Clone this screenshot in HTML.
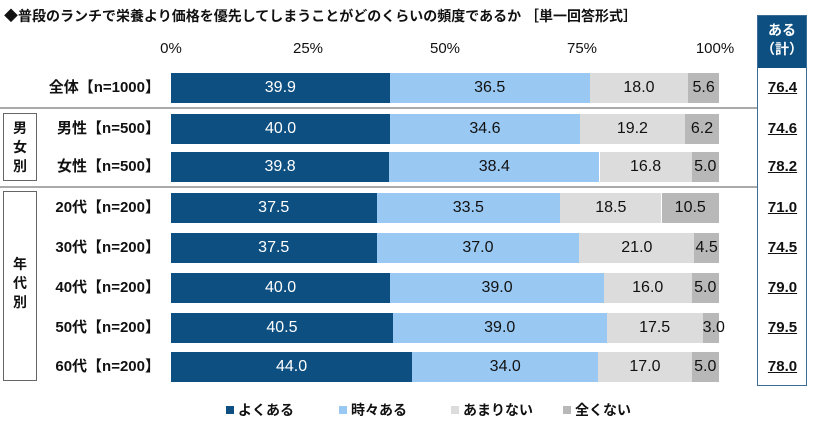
<!DOCTYPE html>
<html><head><meta charset="utf-8"><style>
body{margin:0;width:820px;height:422px;background:#fff;position:relative;overflow:hidden;font-family:"Liberation Sans","Noto Sans CJK JP",sans-serif;font-weight:bold;color:#111}
.a{position:absolute}
.s{position:absolute;height:30px;line-height:30px;text-align:center;font-size:16px;font-weight:normal;color:#111}
.lab{position:absolute;right:660px;font-size:15px;height:30px;line-height:30px;white-space:nowrap}
.tot{position:absolute;left:757px;width:51px;text-align:center;font-size:15px;text-decoration:underline;height:30px;line-height:30px}
.tick{position:absolute;top:40px;font-size:15px;font-weight:normal;transform:translateX(-50%)}
.lg{position:absolute;top:400px;font-size:14px}
.lg i{display:inline-block;width:8px;height:8px;margin-right:4px;vertical-align:1px}
</style></head><body>
<div class="a" style="left:4px;top:6px;font-size:14px;white-space:nowrap">◆普段のランチで栄養より価格を優先してしまうことがどのくらいの頻度であるか ［単一回答形式］</div>
<div class="tick" style="left:171px">0%</div>
<div class="tick" style="left:308px">25%</div>
<div class="tick" style="left:445px">50%</div>
<div class="tick" style="left:582px">75%</div>
<div class="tick" style="left:715px">100%</div>
<div class="a" style="left:757px;top:15px;width:50px;height:53px;background:#0d4f80;color:#fff;font-size:14px;text-align:center;line-height:19px;padding-top:6px;box-sizing:border-box">ある<br>（計）</div>
<div class="a" style="left:757px;top:15px;width:50px;height:371px;border:1px solid #3b6d96;box-sizing:border-box"></div>
<div class="a" style="left:0;top:107px;width:757px;height:2px;background:#aaa"></div>
<div class="a" style="left:0;top:186px;width:757px;height:2px;background:#aaa"></div>
<div class="a" style="left:3px;top:113px;width:34px;height:68px;border:1px solid #666;box-sizing:border-box;font-size:14px;text-align:center;line-height:19px;padding-top:5px">男<br>女<br>別</div>
<div class="a" style="left:3px;top:191px;width:34px;height:190px;border:1px solid #666;box-sizing:border-box;font-size:14px;text-align:center;line-height:19px;padding-top:63px">年<br>代<br>別</div>
<div id="c"></div>
<div class="lg" style="left:226px"><i style="background:#0d4f80"></i>よくある</div>
<div class="lg" style="left:339px"><i style="background:#99c8f2"></i>時々ある</div>
<div class="lg" style="left:451px"><i style="background:#dcdcdc"></i>あまりない</div>
<div class="lg" style="left:563px"><i style="background:#b8b8b8"></i>全くない</div>
<script>
var rows=[["全体【n=1000】",88,[39.9,36.5,18.0,5.6],"76.4"],["男性【n=500】",129,[40.0,34.6,19.2,6.2],"74.6"],["女性【n=500】",167,[39.8,38.4,16.8,5.0],"78.2"],["20代【n=200】",208,[37.5,33.5,18.5,10.5],"71.0"],["30代【n=200】",248,[37.5,37.0,21.0,4.5],"74.5"],["40代【n=200】",288,[40.0,39.0,16.0,5.0],"79.0"],["50代【n=200】",328,[40.5,39.0,17.5,3.0],"79.5"],["60代【n=200】",367,[44.0,34.0,17.0,5.0],"78.0"]];
var col=["#0d4f80","#99c8f2","#dcdcdc","#b8b8b8"],h="";
rows.forEach(function(r){var t=r[1]-15,x=171;
h+='<div class="lab" style="top:'+t+'px">'+r[0]+'</div>';
r[2].forEach(function(v,i){var w=v*5.48;h+='<div class="s" style="left:'+x.toFixed(1)+'px;top:'+t+'px;width:'+w.toFixed(1)+'px;background:'+col[i]+(i==0?';color:#fff':'')+'">'+v.toFixed(1)+'</div>';x+=w;});
h+='<div class="tot" style="top:'+t+'px">'+r[3]+'</div>';});
document.getElementById('c').innerHTML=h;
</script>
</body></html>
